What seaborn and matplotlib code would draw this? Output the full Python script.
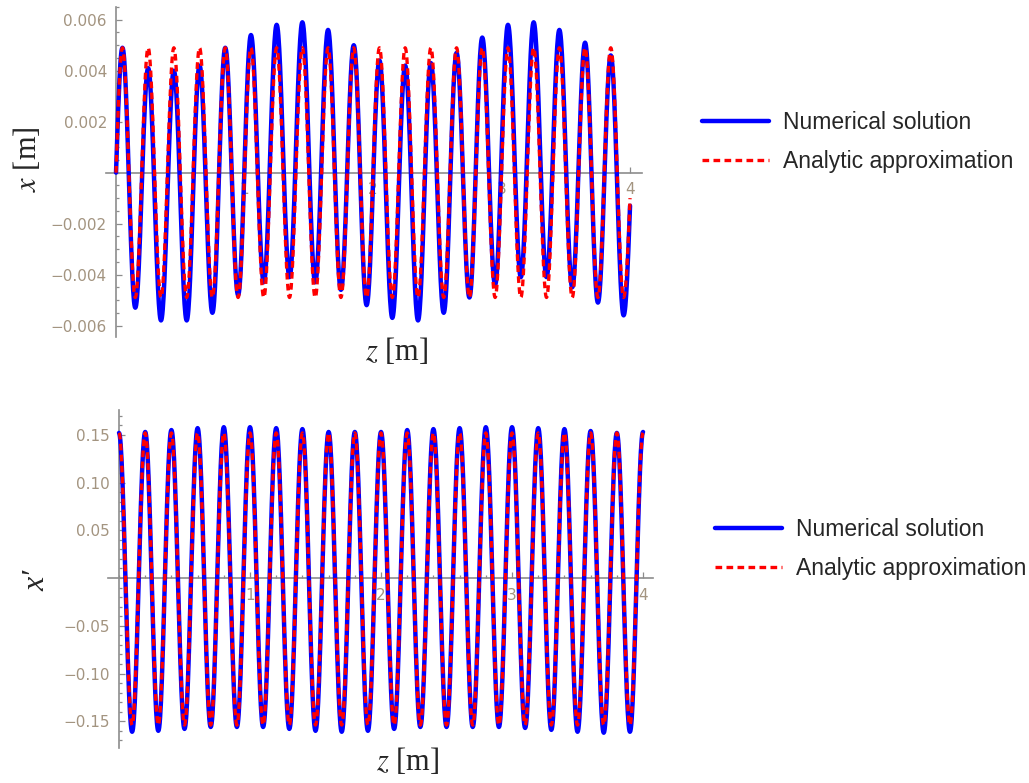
import numpy as np
import pandas as pd
import matplotlib
matplotlib.use("Agg")
import matplotlib.pyplot as plt
import seaborn as sns
from matplotlib.ticker import FixedLocator, MultipleLocator, FuncFormatter

# extrema (one value per half period, period 0.2 m)
HALF_PERIOD = 0.1
Z_END = 4.0

# top panel: x [m]; peaks at z = 0.05, 0.25, ...; troughs at z = 0.15, 0.35, ...
x_num_peaks = [0.0049, 0.0041, 0.0040, 0.0042, 0.0049, 0.0054, 0.0058, 0.0059, 0.0056, 0.0050,
               0.0044, 0.0042, 0.0043, 0.0047, 0.0053, 0.0058, 0.0059, 0.0056, 0.0051, 0.0046]
x_num_troughs = [-0.0053, -0.0058, -0.0058, -0.0055, -0.0048, -0.0043, -0.0041, -0.0043, -0.0046, -0.0052,
                 -0.0057, -0.0058, -0.0055, -0.0049, -0.0044, -0.0041, -0.0041, -0.0045, -0.0051, -0.0056]
x_ana_peaks = [0.0049] * 20
x_ana_troughs = [-0.0049] * 20
x_num_end = -0.0013
x_ana_end = -0.0010

# bottom panel: x'; peaks at z = 0, 0.2, ..., 4.0; troughs at z = 0.1, 0.3, ...
dx_num_peaks = [0.152, 0.153, 0.155, 0.157, 0.158, 0.158, 0.157, 0.156, 0.153, 0.153, 0.153,
                0.155, 0.156, 0.157, 0.158, 0.158, 0.157, 0.156, 0.154, 0.152, 0.153]
dx_num_troughs = [-0.161, -0.160, -0.158, -0.156, -0.156, -0.156, -0.158, -0.160, -0.161, -0.160,
                  -0.158, -0.156, -0.156, -0.156, -0.156, -0.157, -0.159, -0.161, -0.162, -0.161]
dx_ana_peaks = [0.152] * 21
dx_ana_troughs = [-0.154] * 20

LABELS = ["Numerical solution", "Analytic approximation"]
BLUE = "#0000ff"
RED = "#ff0000"


def smooth_through(z_ext, v_ext, n=30):
    """half-cosine segments between consecutive extrema"""
    zs, vs = [], []
    for i in range(len(z_ext) - 1):
        t = np.linspace(0, 1, n, endpoint=False)
        zs.append(z_ext[i] + (z_ext[i + 1] - z_ext[i]) * t)
        vs.append(v_ext[i] + (v_ext[i + 1] - v_ext[i]) * (1 - np.cos(np.pi * t)) / 2)
    zs.append([z_ext[-1]])
    vs.append([v_ext[-1]])
    z = np.concatenate(zs)
    v = np.concatenate(vs)
    keep = (z >= 0) & (z <= Z_END + 1e-9)
    return z[keep], v[keep]


def x_curve(peaks, troughs, end_val):
    vals = [-peaks[0]]
    for p, t in zip(peaks, troughs):
        vals += [p, t]
    vals.append(2 * end_val - troughs[-1])
    z = -0.05 + HALF_PERIOD * np.arange(len(vals))
    return smooth_through(z, vals)


def dx_curve(peaks, troughs):
    vals = []
    for i, p in enumerate(peaks):
        vals.append(p)
        if i < len(troughs):
            vals.append(troughs[i])
    z = HALF_PERIOD * np.arange(len(vals))
    return smooth_through(z, vals)


sns.set_style("white")
plt.rcParams["font.family"] = ["DejaVu Sans"]
plt.rcParams["mathtext.fontset"] = "stix"

fig = plt.figure(figsize=(10.29, 7.83), dpi=100)
ax1 = fig.add_axes([106 / 1029, 1 - 337 / 783, 536 / 1029, 330 / 783])
ax2 = fig.add_axes([108 / 1029, 1 - 748 / 783, 545 / 1029, 338 / 783])

z, v = x_curve(x_num_peaks, x_num_troughs, x_num_end)
top = pd.DataFrame({"z": z, "v": v})
z, v = x_curve(x_ana_peaks, x_ana_troughs, x_ana_end)
top_a = pd.DataFrame({"z": z, "v": v})
z, v = dx_curve(dx_num_peaks, dx_num_troughs)
bot = pd.DataFrame({"z": z, "v": v})
z, v = dx_curve(dx_ana_peaks, dx_ana_troughs)
bot_a = pd.DataFrame({"z": z, "v": v})

dash = (0, (2.0, 1.3))
for ax, num, ana in [(ax1, top, top_a), (ax2, bot, bot_a)]:
    sns.lineplot(data=num, x="z", y="v", ax=ax, color=BLUE, lw=3.2, estimator=None,
                 sort=False, label=LABELS[0], zorder=3)
    sns.lineplot(data=ana, x="z", y="v", ax=ax, color=RED, lw=2.4, estimator=None,
                 sort=False, label=LABELS[1], linestyle=dash, zorder=4)

ax1.set_xlim(-0.078, 4.093)
ax1.set_ylim(-0.00645, 0.0065)
ax2.set_xlim(-0.084, 4.076)
ax2.set_ylim(-0.178, 0.176)


def fmt(dec):
    return FuncFormatter(lambda val, pos: f"{val:.{dec}f}".replace("-", "\u2212"))


ax1.yaxis.set_major_locator(FixedLocator([-0.006, -0.004, -0.002, 0.002, 0.004, 0.006]))
ax1.yaxis.set_minor_locator(MultipleLocator(0.0005))
ax1.yaxis.set_major_formatter(fmt(3))
ax2.yaxis.set_major_locator(FixedLocator([-0.15, -0.10, -0.05, 0.05, 0.10, 0.15]))
ax2.yaxis.set_minor_locator(MultipleLocator(0.01))
ax2.yaxis.set_major_formatter(fmt(2))

axis_grey = "#8c8c8c"
for ax in (ax1, ax2):
    ax.xaxis.set_major_locator(FixedLocator([1, 2, 3, 4]))
    ax.xaxis.set_minor_locator(MultipleLocator(0.2))
    ax.xaxis.set_major_formatter(FuncFormatter(lambda val, pos: f"{val:.0f}"))
    for side in ("top", "right"):
        ax.spines[side].set_visible(False)
    for side in ("left", "bottom"):
        ax.spines[side].set_position(("data", 0))
        ax.spines[side].set_color(axis_grey)
        ax.spines[side].set_linewidth(1.2)
        ax.spines[side].set_zorder(1)
    ax.set_axisbelow(True)
    ax.tick_params(which="both", direction="in", color=axis_grey, width=0.9,
                   left=True, bottom=True, labelcolor="#a39480", labelsize=11)
    ax.tick_params(which="major", length=4.5)
    ax.tick_params(which="minor", length=2.2)
    ax.tick_params(axis="y", pad=6.5)
    ax.tick_params(axis="x", pad=7)
    ax.set_xlabel(r"$z$ [m]", fontsize=22, family="Liberation Serif")
    ax.xaxis.label.set_va("center")

ax1.set_ylabel(r"$x$ [m]", fontsize=22, family="Liberation Serif")
ax2.set_ylabel("x\u2032", fontsize=23, family=["Liberation Serif", "DejaVu Serif"],
               style="italic")
ax1.yaxis.label.set_va("center")
ax2.yaxis.label.set_va("center")
ax1.xaxis.set_label_coords(0.543, -0.045)
ax2.xaxis.set_label_coords(0.55, -0.041)
ax1.yaxis.set_label_coords(-0.146, 0.54)
ax2.yaxis.set_label_coords(-0.130, 0.497)

leg_kw = dict(loc="upper left", frameon=False, borderaxespad=0, borderpad=0,
              handlelength=2.93, handletextpad=0.61, labelspacing=0.68,
              prop={"family": "Liberation Sans", "size": 16.5})
ax1.legend(bbox_to_anchor=(702 / 1029, 1 - 111 / 783),
           bbox_transform=fig.transFigure, **leg_kw)
ax2.legend(bbox_to_anchor=(715 / 1029, 1 - 518 / 783),
           bbox_transform=fig.transFigure, **leg_kw)

fig.savefig("out.png", dpi=100)
